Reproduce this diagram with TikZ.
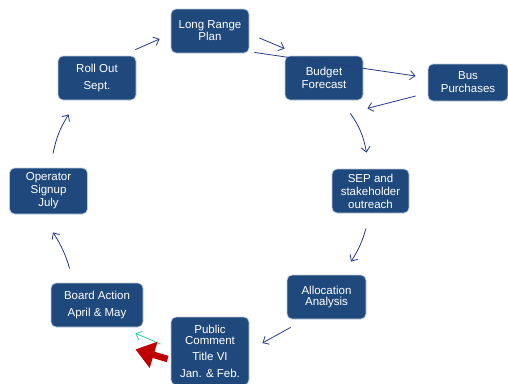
\documentclass[tikz,border=0pt]{standalone}
\usepackage{fontspec}
\setmainfont{Liberation Sans}
\usetikzlibrary{arrows.meta}
\definecolor{boxblue}{RGB}{31,73,125}
\definecolor{boxedge}{RGB}{190,202,220}
\definecolor{flowblue}{RGB}{40,56,140}
\definecolor{greenflow}{RGB}{20,210,150}
\definecolor{alertred}{RGB}{192,0,0}
\begin{document}
\begin{tikzpicture}[x=1pt, y=-1pt, >={Straight Barb[length=5pt,width=9pt]},
  box/.style={draw=boxedge, line width=0.8pt, fill=boxblue, rounded corners=5pt,
    text=white, align=center, font=\fontsize{11.5}{13}\selectfont, inner sep=0pt,
    minimum width=78pt, minimum height=44pt},
  flow/.style={->, draw=flowblue, line width=0.8pt}]
  \useasboundingbox (0,0) rectangle (508,383);
  \node[box] (plan) at (210,31) {Long Range\\[-1pt]Plan};
  \node[box] (budget) at (324,78) {Budget\\Forecast};
  \node[box, minimum width=80pt, minimum height=37pt] (bus) at (468,82.5) {Bus\\Purchases};
  \node[box, minimum width=77pt] (sep) at (370.5,191) {SEP and\\stakeholder\\outreach};
  \node[box, minimum width=79pt] (alloc) at (326.5,297) {Allocation\\[-2pt]Analysis};
  \node[box, minimum height=68pt] (comment) at (210,351) {Public\\[-2pt]Comment\\[3pt]Title VI\\[4pt]Jan. \& Feb.};
  \node[box, minimum width=92pt] (board) at (97,305) {Board Action\\[4pt]April \& May};
  \node[box, minimum height=46pt] (operator) at (48.5,191) {Operator\\Signup\\July};
  \node[box] (rollout) at (97,78) {Roll Out\\[4pt]Sept.};
  \draw[flow] ([shift={(-1,-6)}]rollout.north east) -- ([shift={(-11,8)}]plan.west);
  \draw[flow] ([shift={(10,7)}]plan.east) -- ([shift={(0,-7)}]budget.north west);
  \draw[flow] ([shift={(5,-1)}]plan.south east) -- ([shift={(-12,-6.5)}]bus.west);
  \draw[flow] ([shift={(-12,13.5)}]bus.west) -- ([shift={(4,8)}]budget.south east);
  \draw[flow] ([shift={(-13,13)}]budget.south east) to[bend left=12] ([shift={(-4,-16)}]sep.north);
  \draw[flow] ([shift={(-4.5,15)}]sep.south) to[bend left=8] ([shift={(24.5,-13)}]alloc.north);
  \draw[flow] ([shift={(4,8)}]alloc.south west) -- ([shift={(13,-8)}]comment.east);
  \draw[->, draw=greenflow, line width=0.7pt] ([shift={(-10,-7)}]comment.west) -- ([shift={(-8,6)}]board.south east);
  \draw[-{Triangle[length=19pt,width=26pt]}, draw=alertred, fill=alertred, line width=6.5pt]
    ([shift={(-3,8)}]comment.west) -- ([shift={(-8,22)}]board.south east);
  \draw[flow] ([shift={(19,-14)}]board.north west) to[bend right=8] ([shift={(4.5,18)}]operator.south);
  \draw[flow] ([shift={(4.5,-14)}]operator.north) to[bend left=10] ([shift={(11,14)}]rollout.south west);
\end{tikzpicture}
\end{document}
